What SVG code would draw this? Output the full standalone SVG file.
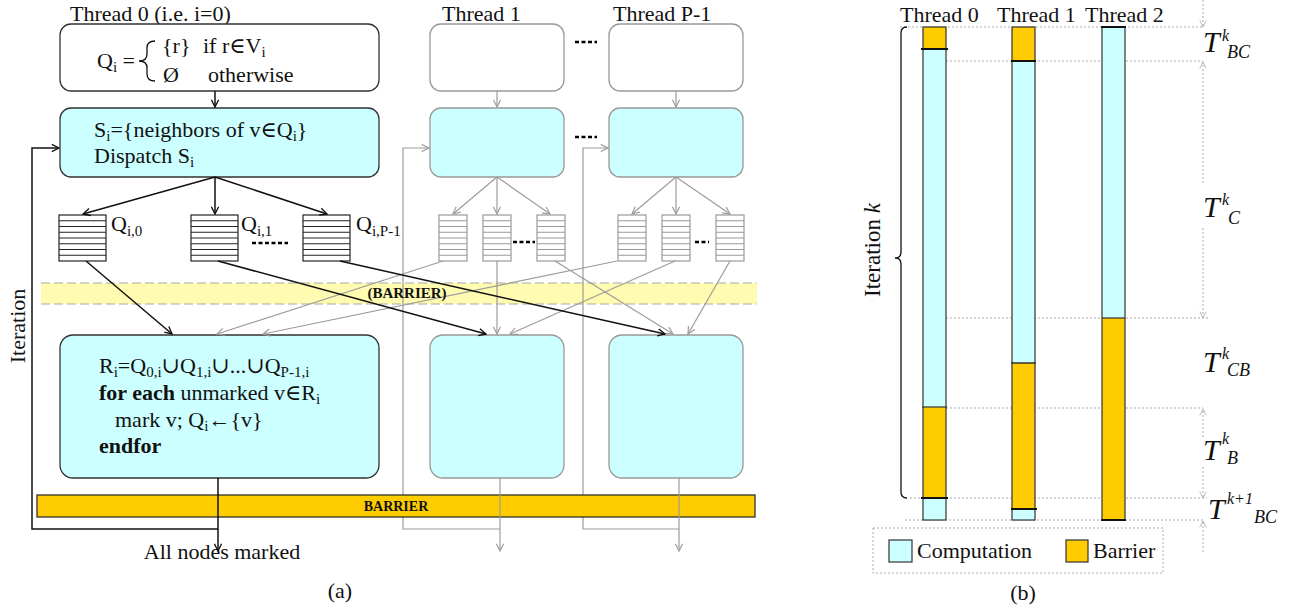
<svg xmlns="http://www.w3.org/2000/svg" width="1303" height="612" viewBox="0 0 1303 612">
<defs>
<style>
text{font-family:"Liberation Serif","Times New Roman","DejaVu Serif",serif;fill:#111}
.t{font-size:22px}
.s{font-size:15px}
.bd{font-weight:bold}
.it{font-style:italic}
.box0{fill:#fff;stroke:#333;stroke-width:1.3}
.boxc0{fill:#CCFFFF;stroke:#333;stroke-width:1.3}
.boxg{fill:#fff;stroke:#999;stroke-width:1.3}
.boxcg{fill:#CCFFFF;stroke:#999;stroke-width:1.3}
.lk{stroke:#111;stroke-width:1.5;fill:none}
.lg{stroke:#9c9c9c;stroke-width:1.2;fill:none}
.ld{stroke:#aaa;stroke-width:1;stroke-dasharray:2 2;fill:none}
.ell{stroke:#000;stroke-width:2.5;stroke-dasharray:4 2.5}
.bar{stroke:#333;stroke-width:1.2;fill:none}
.tr{stroke:#111;stroke-width:2}
.cy{fill:#CCFFFF}
.or{fill:#FFCC00}
</style>
<marker id="ak" viewBox="0 0 10 10" refX="9" refY="5" markerWidth="9" markerHeight="9" markerUnits="userSpaceOnUse" orient="auto"><path d="M1,1 L9,5 L1,9" fill="none" stroke="#111" stroke-width="1.5"/></marker>
<marker id="ag" viewBox="0 0 10 10" refX="9" refY="5" markerWidth="9" markerHeight="9" markerUnits="userSpaceOnUse" orient="auto"><path d="M1,1 L9,5 L1,9" fill="none" stroke="#9c9c9c" stroke-width="1.3"/></marker>
<marker id="ad" viewBox="0 0 10 10" refX="9" refY="5" markerWidth="8" markerHeight="8" markerUnits="userSpaceOnUse" orient="auto"><path d="M1,1 L9,5 L1,9" fill="none" stroke="#aaa" stroke-width="1"/></marker>
<g id="qk"><rect x="0" y="0" width="47" height="46" fill="#fff" stroke="#222" stroke-width="1.2"/><path d="M0,5.75H47M0,11.5H47M0,17.25H47M0,23H47M0,28.75H47M0,34.5H47M0,40.25H47" stroke="#222" stroke-width="1"/></g>
<g id="qg"><rect x="0" y="0" width="28" height="46" fill="#fff" stroke="#999" stroke-width="1.2"/><path d="M0,5.75H28M0,11.5H28M0,17.25H28M0,23H28M0,28.75H28M0,34.5H28M0,40.25H28" stroke="#999" stroke-width="1"/></g>
</defs>
<rect width="1303" height="612" fill="#fff"/>

<!-- Panel (a) titles -->
<text class="t" x="70" y="21">Thread 0 (i.e. i=0)</text>
<text class="t" x="442" y="21">Thread 1</text>
<text class="t" x="613" y="21">Thread P-1</text>

<!-- barrier bands -->
<g id="band-yellow">
<rect x="41" y="283" width="716" height="21" fill="#FFFBB0"/>
<path d="M41,283H757M41,304H757" stroke="#aaa" stroke-width="1.2" stroke-dasharray="9 4"/>
</g>

<!-- loop lines (under barrier) -->
<g id="loops">
<path class="lk" d="M218,529H32V148H59" marker-end="url(#ak)"/>
<path class="lg" d="M500,529H403V148H429" marker-end="url(#ag)"/>
<path class="lg" d="M679,529H583V148H608" marker-end="url(#ag)"/>
</g>

<g id="barrier">
<rect x="37" y="495" width="718" height="22" fill="#FFCC00" stroke="#222" stroke-width="1.2"/>
<text class="bd" x="396" y="511" font-size="14" text-anchor="middle">BARRIER</text>
</g>

<!-- Thread 0 nodes -->
<g id="t0-init">
<rect class="box0" x="60" y="24" width="319" height="67" rx="11"/>
<text class="t" x="97" y="68">Q<tspan class="s" dy="4">i</tspan><tspan dy="-4"> =</tspan></text>
<path d="M155,41 Q147,41 147,48 L147,54 Q147,61 139,61 Q147,61 147,68 L147,74 Q147,81 155,81" fill="none" stroke="#111" stroke-width="1.3"/>
<text class="t" x="162" y="53">{r}</text>
<text class="t" x="203" y="53">if r∈V<tspan class="s" dy="4">i</tspan></text>
<text class="t" x="163" y="82">Ø</text>
<text class="t" x="208" y="82">otherwise</text>
</g>
<g id="t0-dispatch">
<rect class="boxc0" x="60" y="108" width="319" height="69" rx="11"/>
<text class="t" x="94" y="137">S<tspan class="s" dy="4">i</tspan><tspan dy="-4">={neighbors of v∈Q</tspan><tspan class="s" dy="4">i</tspan><tspan dy="-4">}</tspan></text>
<text class="t" x="94" y="163">Dispatch S<tspan class="s" dy="4">i</tspan></text>
</g>
<g id="t0-merge">
<rect class="boxc0" x="60" y="335" width="319" height="143" rx="13"/>
<text class="t" x="99" y="373">R<tspan class="s" dy="4">i</tspan><tspan dy="-4">=Q</tspan><tspan class="s" dy="4">0,i</tspan><tspan dy="-4">∪Q</tspan><tspan class="s" dy="4">1,i</tspan><tspan dy="-4">∪...∪Q</tspan><tspan class="s" dy="4">P-1,i</tspan></text>
<text class="t" x="99" y="400"><tspan class="bd">for each</tspan> unmarked v∈R<tspan class="s" dy="4">i</tspan></text>
<text class="t" x="115" y="427">mark v; Q<tspan class="s" dy="4">i</tspan><tspan dy="-4">←{v}</tspan></text>
<text class="t bd" x="99" y="453">endfor</text>
</g>
<g id="t0-queues">
<use href="#qk" x="59" y="215"/>
<use href="#qk" x="191" y="215"/>
<use href="#qk" x="303" y="215"/>
<text class="t" x="111" y="231">Q<tspan class="s" dy="5">i,0</tspan></text>
<text class="t" x="241" y="231">Q<tspan class="s" dy="5">i,1</tspan></text>
<text class="t" x="356" y="231">Q<tspan class="s" dy="5">i,P-1</tspan></text>
<line class="ell" x1="252" y1="243" x2="288" y2="243"/>
</g>

<!-- Thread 1 nodes -->
<g id="t1-init"><rect class="boxg" x="430" y="24" width="134" height="67" rx="11"/></g>
<g id="t1-dispatch"><rect class="boxcg" x="430" y="108" width="134" height="69" rx="11"/></g>
<g id="t1-merge"><rect class="boxcg" x="430" y="335" width="134" height="143" rx="13"/></g>
<g id="t1-queues">
<use href="#qg" x="439" y="215"/>
<use href="#qg" x="483" y="215"/>
<use href="#qg" x="537" y="215"/>
<line class="ell" x1="513" y1="242" x2="535" y2="242"/>
</g>

<!-- Thread P-1 nodes -->
<g id="tp-init"><rect class="boxg" x="609" y="24" width="134" height="67" rx="11"/></g>
<g id="tp-dispatch"><rect class="boxcg" x="609" y="108" width="134" height="69" rx="11"/></g>
<g id="tp-merge"><rect class="boxcg" x="609" y="335" width="134" height="143" rx="13"/></g>
<g id="tp-queues">
<use href="#qg" x="618" y="215"/>
<use href="#qg" x="662" y="215"/>
<use href="#qg" x="716" y="215"/>
<line class="ell" x1="695" y1="242" x2="709" y2="242"/>
</g>

<g id="ellipses">
<line class="ell" x1="575" y1="42" x2="597" y2="42"/>
<line class="ell" x1="575" y1="137" x2="597" y2="137"/>
</g>

<!-- connectors -->
<g id="connectors">
<line class="lk" x1="215" y1="91" x2="215" y2="107" marker-end="url(#ak)"/>
<line class="lk" x1="215" y1="177" x2="83" y2="214" marker-end="url(#ak)"/>
<line class="lk" x1="215" y1="177" x2="215" y2="214" marker-end="url(#ak)"/>
<line class="lk" x1="215" y1="177" x2="327" y2="214" marker-end="url(#ak)"/>
<line class="lg" x1="497" y1="91" x2="497" y2="107" marker-end="url(#ag)"/>
<line class="lg" x1="497" y1="177" x2="453" y2="214" marker-end="url(#ag)"/>
<line class="lg" x1="497" y1="177" x2="497" y2="214" marker-end="url(#ag)"/>
<line class="lg" x1="497" y1="177" x2="550" y2="214" marker-end="url(#ag)"/>
<line class="lg" x1="676" y1="91" x2="676" y2="107" marker-end="url(#ag)"/>
<line class="lg" x1="676" y1="177" x2="632" y2="214" marker-end="url(#ag)"/>
<line class="lg" x1="676" y1="177" x2="676" y2="214" marker-end="url(#ag)"/>
<line class="lg" x1="676" y1="177" x2="730" y2="214" marker-end="url(#ag)"/>
<line class="lg" x1="443" y1="261" x2="217" y2="334" marker-end="url(#ag)"/>
<line class="lg" x1="617" y1="261" x2="263" y2="334" marker-end="url(#ag)"/>
<line class="lg" x1="497" y1="261" x2="497" y2="334" marker-end="url(#ag)"/>
<line class="lg" x1="675" y1="261" x2="510" y2="334" marker-end="url(#ag)"/>
<line class="lg" x1="555" y1="261" x2="673" y2="334" marker-end="url(#ag)"/>
<line class="lg" x1="730" y1="261" x2="688" y2="334" marker-end="url(#ag)"/>
<line class="lk" x1="86" y1="261" x2="172" y2="334" marker-end="url(#ak)"/>
<line class="lk" x1="218" y1="261" x2="486" y2="334" marker-end="url(#ak)"/>
<line class="lk" x1="340" y1="261" x2="665" y2="334" marker-end="url(#ak)"/>
<line class="lk" x1="218" y1="478" x2="218" y2="551" marker-end="url(#ak)"/>
<line class="lg" x1="500" y1="478" x2="500" y2="551" marker-end="url(#ag)"/>
<line class="lg" x1="679" y1="478" x2="679" y2="551" marker-end="url(#ag)"/>
</g>
<text class="bd" x="407" y="298" font-size="15" text-anchor="middle">(BARRIER)</text>

<text class="t" x="222" y="559" text-anchor="middle">All nodes marked</text>
<text class="t" x="25" y="326" text-anchor="middle" transform="rotate(-90 25 326)">Iteration</text>
<text class="t" x="340" y="598" text-anchor="middle">(a)</text>

<!-- Panel (b) -->
<g id="guides">
<line class="ld" x1="900" y1="27" x2="1203" y2="27"/>
<line class="ld" x1="946" y1="61" x2="1203" y2="61"/>
<line class="ld" x1="946" y1="318" x2="1208" y2="318"/>
<line class="ld" x1="946" y1="408" x2="1203" y2="408"/>
<line class="ld" x1="910" y1="498" x2="1207" y2="498"/>
<line class="ld" x1="905" y1="520" x2="1203" y2="520"/>
<line class="ld" x1="1203" y1="0" x2="1203" y2="27" marker-end="url(#ad)"/>
<line class="ld" x1="1203" y1="183" x2="1203" y2="62" marker-end="url(#ad)"/>
<line class="ld" x1="1203" y1="228" x2="1203" y2="318" marker-end="url(#ad)"/>
<line class="ld" x1="1203" y1="437" x2="1203" y2="409" marker-end="url(#ad)"/>
<line class="ld" x1="1203" y1="467" x2="1203" y2="498" marker-end="url(#ad)"/>
<line class="ld" x1="1203" y1="552" x2="1203" y2="521" marker-end="url(#ad)"/>
</g>

<text class="t" x="900" y="22">Thread 0</text>
<text class="t" x="997" y="22">Thread 1</text>
<text class="t" x="1085" y="22">Thread 2</text>

<g id="bar0">
<rect class="or" x="923" y="27" width="23" height="22"/>
<rect class="cy" x="923" y="49" width="23" height="358"/>
<rect class="or" x="923" y="407" width="23" height="91"/>
<rect class="cy" x="923" y="498" width="23" height="22"/>
<rect class="bar" x="923" y="27" width="23" height="493"/>
<line class="tr" x1="921" y1="49" x2="948" y2="49"/>
<line x1="922" y1="407" x2="947" y2="407" stroke="#333" stroke-width="1.2"/>
<line class="tr" x1="921" y1="498" x2="948" y2="498"/>
</g>
<g id="bar1">
<rect class="or" x="1012" y="27" width="23" height="34"/>
<rect class="cy" x="1012" y="61" width="23" height="302"/>
<rect class="or" x="1012" y="363" width="23" height="146"/>
<rect class="cy" x="1012" y="509" width="23" height="11"/>
<rect class="bar" x="1012" y="27" width="23" height="493"/>
<line class="tr" x1="1011" y1="61" x2="1036" y2="61"/>
<line x1="1011" y1="363" x2="1036" y2="363" stroke="#333" stroke-width="1.5"/>
<line class="tr" x1="1011" y1="509" x2="1037" y2="509"/>
</g>
<g id="bar2">
<rect class="cy" x="1102" y="27" width="23" height="291"/>
<rect class="or" x="1102" y="318" width="23" height="202"/>
<rect class="bar" x="1102" y="27" width="23" height="493"/>
<line class="tr" x1="1101" y1="27" x2="1126" y2="27"/>
<line x1="1102" y1="318" x2="1125" y2="318" stroke="#333" stroke-width="1.2"/>
<line class="tr" x1="1101" y1="520" x2="1126" y2="520"/>
</g>

<g id="brace">
<path d="M907,27 Q901,27 901,33 L901,252 Q901,258 895,258 Q901,258 901,264 L901,492 Q901,498 907,498" fill="none" stroke="#111" stroke-width="1.3"/>
<text x="880" y="250" font-size="23" text-anchor="middle" transform="rotate(-90 880 250)">Iteration <tspan class="it">k</tspan></text>
</g>

<g id="tlabels">
<text x="1203" y="52" font-size="30" class="it">T</text><text x="1222" y="41" font-size="16" class="it">k</text><text x="1227" y="58" font-size="18" class="it">BC</text>
<text x="1203" y="217" font-size="30" class="it">T</text><text x="1222" y="205" font-size="16" class="it">k</text><text x="1228" y="224" font-size="18" class="it">C</text>
<text x="1203" y="372" font-size="30" class="it">T</text><text x="1222" y="359" font-size="16" class="it">k</text><text x="1227" y="376" font-size="18" class="it">CB</text>
<text x="1203" y="460" font-size="30" class="it">T</text><text x="1222" y="444" font-size="16" class="it">k</text><text x="1227" y="464" font-size="18" class="it">B</text>
<text x="1208" y="519" font-size="30" class="it">T</text><text x="1227" y="504" font-size="16" class="it">k+1</text><text x="1254" y="523" font-size="18" class="it">BC</text>
</g>

<g id="legend">
<rect x="873" y="528" width="290" height="45" class="ld"/>
<rect x="889" y="540" width="23" height="22" fill="#CCFFFF" stroke="#333" stroke-width="1.2"/>
<text class="t" x="917" y="558">Computation</text>
<rect x="1066" y="540" width="22" height="22" fill="#FFCC00" stroke="#333" stroke-width="1.2"/>
<text class="t" x="1093" y="558">Barrier</text>
</g>
<text class="t" x="1023" y="600" text-anchor="middle">(b)</text>
</svg>
